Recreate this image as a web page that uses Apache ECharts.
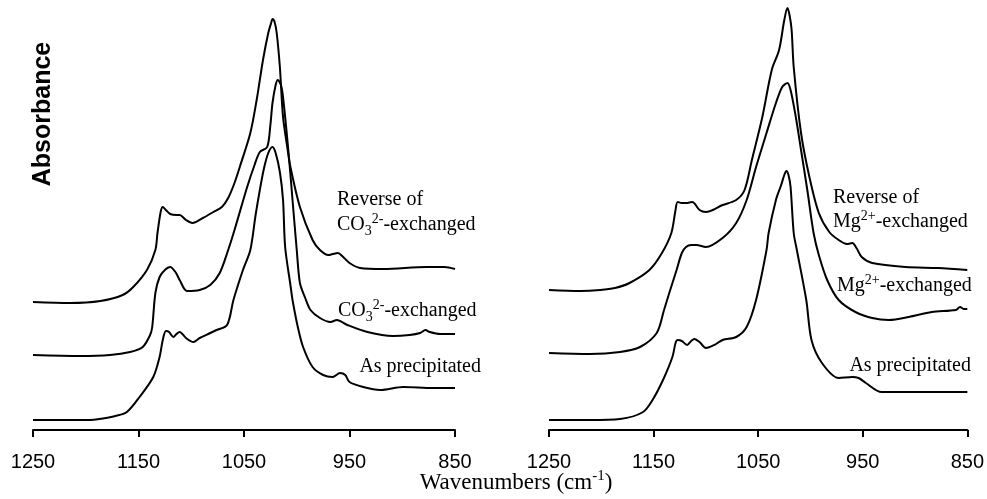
<!DOCTYPE html>
<html>
<head>
<meta charset="utf-8">
<title>IR spectra</title>
<script src="https://cdn.jsdelivr.net/npm/echarts@6/dist/echarts.min.js"></script>
<style>
  html, body { margin: 0; padding: 0; background: #fff; }
  #chart { width: 987px; height: 499px; }
</style>
</head>
<body>
<div id="chart"></div>
<script>
// wavenumber ticks (cm-1), axis runs 1250 -> 850
const tickValues = [1250, 1150, 1050, 950, 850];

// left panel: [wavenumber, absorbance (arb., offset)]
const leftAsPrecipitated = [
  [1250,0.10],[1196,0.10],[1187,0.11],[1172,0.14],[1161,0.18],[1149,0.33],[1136,0.53],[1130,0.73],
  [1127,0.90],[1124,0.99],[1121,0.98],[1117,0.93],[1114,0.96],[1111,0.98],[1105,0.92],[1098,0.88],
  [1092,0.92],[1082,0.97],[1076,1.00],[1066,1.05],[1060,1.30],[1051,1.60],[1044,1.80],[1039,2.15],
  [1035,2.40],[1031,2.62],[1027,2.77],[1023,2.83],[1020,2.77],[1016,2.58],[1013,2.30],[1011,1.83],
  [1006,1.45],[1004,1.30],[999,1.03],[994,0.83],[985,0.63],[975,0.55],[966,0.53],[959,0.57],
  [954,0.55],[950,0.48],[937,0.43],[921,0.40],[899,0.43],[871,0.42],[850,0.42]
];
const leftCO3Exchanged = [
  [1250,0.75],[1205,0.74],[1177,0.75],[1158,0.78],[1146,0.83],[1139,0.95],[1137,1.03],[1134,1.37],
  [1130,1.53],[1125,1.60],[1120,1.63],[1115,1.58],[1111,1.50],[1104,1.39],[1092,1.40],[1082,1.45],
  [1073,1.57],[1065,1.80],[1059,2.00],[1047,2.43],[1040,2.65],[1035,2.78],[1028,2.83],[1025,3.05],
  [1023,3.27],[1020,3.45],[1018,3.50],[1015,3.45],[1013,3.33],[1008,2.80],[1004,2.30],[1000,1.80],
  [997,1.47],[992,1.32],[987,1.20],[978,1.12],[968,1.08],[962,1.10],[952,1.05],[933,0.98],
  [909,0.94],[893,0.95],[883,0.97],[878,1.00],[874,0.98],[864,0.96],[850,0.96]
];
const leftReverseCO3 = [
  [1250,1.28],[1215,1.27],[1186,1.29],[1165,1.35],[1155,1.43],[1142,1.60],[1134,1.80],[1132,1.97],
  [1129,2.18],[1127,2.23],[1124,2.20],[1120,2.16],[1114,2.15],[1111,2.15],[1105,2.10],[1099,2.07],
  [1089,2.12],[1079,2.18],[1071,2.23],[1065,2.32],[1059,2.47],[1054,2.63],[1044,2.97],[1038,3.30],
  [1032,3.70],[1027,3.97],[1024,4.08],[1023,4.11],[1021,4.08],[1019,3.97],[1016,3.63],[1013,3.13],
  [1009,2.83],[1006,2.63],[997,2.23],[985,1.90],[978,1.80],[970,1.75],[966,1.76],[961,1.77],
  [956,1.73],[950,1.67],[940,1.62],[918,1.61],[877,1.63],[860,1.63],[850,1.61]
];

// right panel
const rightAsPrecipitated = [
  [1250,0.10],[1211,0.10],[1182,0.11],[1160,0.18],[1151,0.30],[1141,0.50],[1132,0.73],[1129,0.87],
  [1127,0.90],[1123,0.89],[1118,0.85],[1114,0.89],[1111,0.91],[1106,0.88],[1100,0.82],[1092,0.85],
  [1084,0.90],[1071,0.93],[1061,1.03],[1052,1.30],[1042,1.80],[1040,1.97],[1033,2.30],[1028,2.45],
  [1025,2.55],[1023,2.59],[1021,2.55],[1019,2.43],[1016,1.97],[1013,1.80],[1004,1.30],[999,0.90],
  [989,0.67],[973,0.52],[960,0.53],[954,0.52],[947,0.47],[932,0.38],[900,0.38],[850,0.38]
];
const rightMgExchanged = [
  [1250,0.77],[1211,0.76],[1182,0.78],[1163,0.83],[1147,0.97],[1140,1.20],[1135,1.37],[1128,1.60],
  [1123,1.77],[1119,1.83],[1114,1.85],[1109,1.85],[1100,1.83],[1084,1.92],[1071,2.07],[1061,2.30],
  [1052,2.63],[1042,2.97],[1033,3.27],[1027,3.43],[1022,3.47],[1019,3.40],[1014,3.13],[1009,2.80],
  [1003,2.40],[997,1.97],[992,1.75],[984,1.50],[973,1.30],[957,1.18],[941,1.12],[925,1.10],
  [906,1.13],[884,1.18],[861,1.20],[857,1.23],[853,1.21],[850,1.21]
];
const rightReverseMg = [
  [1250,1.40],[1220,1.39],[1201,1.40],[1187,1.42],[1173,1.47],[1154,1.60],[1142,1.77],[1133,1.97],
  [1129,2.20],[1127,2.28],[1123,2.27],[1119,2.27],[1113,2.28],[1106,2.20],[1100,2.18],[1084,2.25],
  [1071,2.30],[1063,2.40],[1056,2.70],[1046,3.13],[1037,3.60],[1030,3.80],[1025,4.10],[1022,4.22],
  [1020,4.15],[1018,4.00],[1016,3.63],[1009,2.97],[1001,2.53],[992,2.17],[982,1.98],[973,1.90],
  [965,1.86],[960,1.87],[956,1.82],[951,1.73],[941,1.67],[909,1.63],[878,1.62],[850,1.60]
];

const serif = '"Liberation Serif", "Times New Roman", serif';
const sans = '"Liberation Sans", Arial, sans-serif';

// rich styles for sub / superscripts
const rich = {
  n: { fontFamily: serif, fontSize: 20, lineHeight: 26, color: '#000' },
  sub: { fontFamily: serif, fontSize: 14, lineHeight: 14, verticalAlign: 'bottom', color: '#000' },
  sup: { fontFamily: serif, fontSize: 14, lineHeight: 14, verticalAlign: 'top', color: '#000' }
};

function xAxisFor(idx) {
  return {
    type: 'value',
    gridIndex: idx,
    min: 850,
    max: 1250,
    inverse: true,
    axisLine: { show: true, lineStyle: { color: '#000', width: 2 } },
    axisTick: { show: true, customValues: tickValues, length: 7, lineStyle: { color: '#000', width: 2 } },
    axisLabel: {
      customValues: tickValues, color: '#000', fontFamily: sans, fontSize: 20, margin: 22,
      formatter: function (v) { return String(v); }
    },
    splitLine: { show: false }
  };
}
function yAxisFor(idx) {
  return { type: 'value', gridIndex: idx, min: 0, max: 4.3, show: false };
}
function line(name, data, idx) {
  return {
    name: name, type: 'line', xAxisIndex: idx, yAxisIndex: idx,
    data: data, showSymbol: false, smooth: 0.3,
    lineStyle: { color: '#000', width: 2 }
  };
}

const chart = echarts.init(document.getElementById('chart'));
chart.setOption({
  animation: false,
  backgroundColor: '#fff',
  grid: [
    { left: 33, width: 422, top: 0, height: 430 },
    { left: 549, width: 420, top: 0, height: 430 }
  ],
  xAxis: [xAxisFor(0), xAxisFor(1)],
  yAxis: [yAxisFor(0), yAxisFor(1)],
  series: [
    line('As precipitated', leftAsPrecipitated, 0),
    line('CO3 exchanged', leftCO3Exchanged, 0),
    line('Reverse of CO3 exchanged', leftReverseCO3, 0),
    line('As precipitated', rightAsPrecipitated, 1),
    line('Mg exchanged', rightMgExchanged, 1),
    line('Reverse of Mg exchanged', rightReverseMg, 1)
  ],
  graphic: [
    {
      type: 'text', x: 43, y: 114, rotation: Math.PI / 2,
      style: { text: 'Absorbance', font: 'bold 25px ' + sans, fill: '#000', align: 'center', verticalAlign: 'middle' }
    },
    {
      type: 'text', x: 516, y: 483,
      style: { text: '{n|Wavenumbers (cm}{sup|-1}{n|)}', rich: {
        n: { fontFamily: serif, fontSize: 23, lineHeight: 28, color: '#000' },
        sup: { fontFamily: serif, fontSize: 15, lineHeight: 15, verticalAlign: 'top', color: '#000' }
      }, align: 'center', verticalAlign: 'middle' }
    },
    // left panel labels
    { type: 'text', x: 337, y: 200, style: { text: '{n|Reverse of}', rich: rich, verticalAlign: 'middle' } },
    { type: 'text', x: 337, y: 225, style: { text: '{n|CO}{sub|3}{sup|2-}{n|-exchanged}', rich: rich, verticalAlign: 'middle' } },
    { type: 'text', x: 338, y: 311, style: { text: '{n|CO}{sub|3}{sup|2-}{n|-exchanged}', rich: rich, verticalAlign: 'middle' } },
    { type: 'text', x: 481, y: 367, style: { text: '{n|As precipitated}', rich: rich, align: 'right', verticalAlign: 'middle' } },
    // right panel labels
    { type: 'text', x: 833, y: 198, style: { text: '{n|Reverse of}', rich: rich, verticalAlign: 'middle' } },
    { type: 'text', x: 833, y: 222, style: { text: '{n|Mg}{sup|2+}{n|-exchanged}', rich: rich, verticalAlign: 'middle' } },
    { type: 'text', x: 837, y: 286, style: { text: '{n|Mg}{sup|2+}{n|-exchanged}', rich: rich, verticalAlign: 'middle' } },
    { type: 'text', x: 971, y: 366, style: { text: '{n|As precipitated}', rich: rich, align: 'right', verticalAlign: 'middle' } }
  ]
});
</script>
</body>
</html>
